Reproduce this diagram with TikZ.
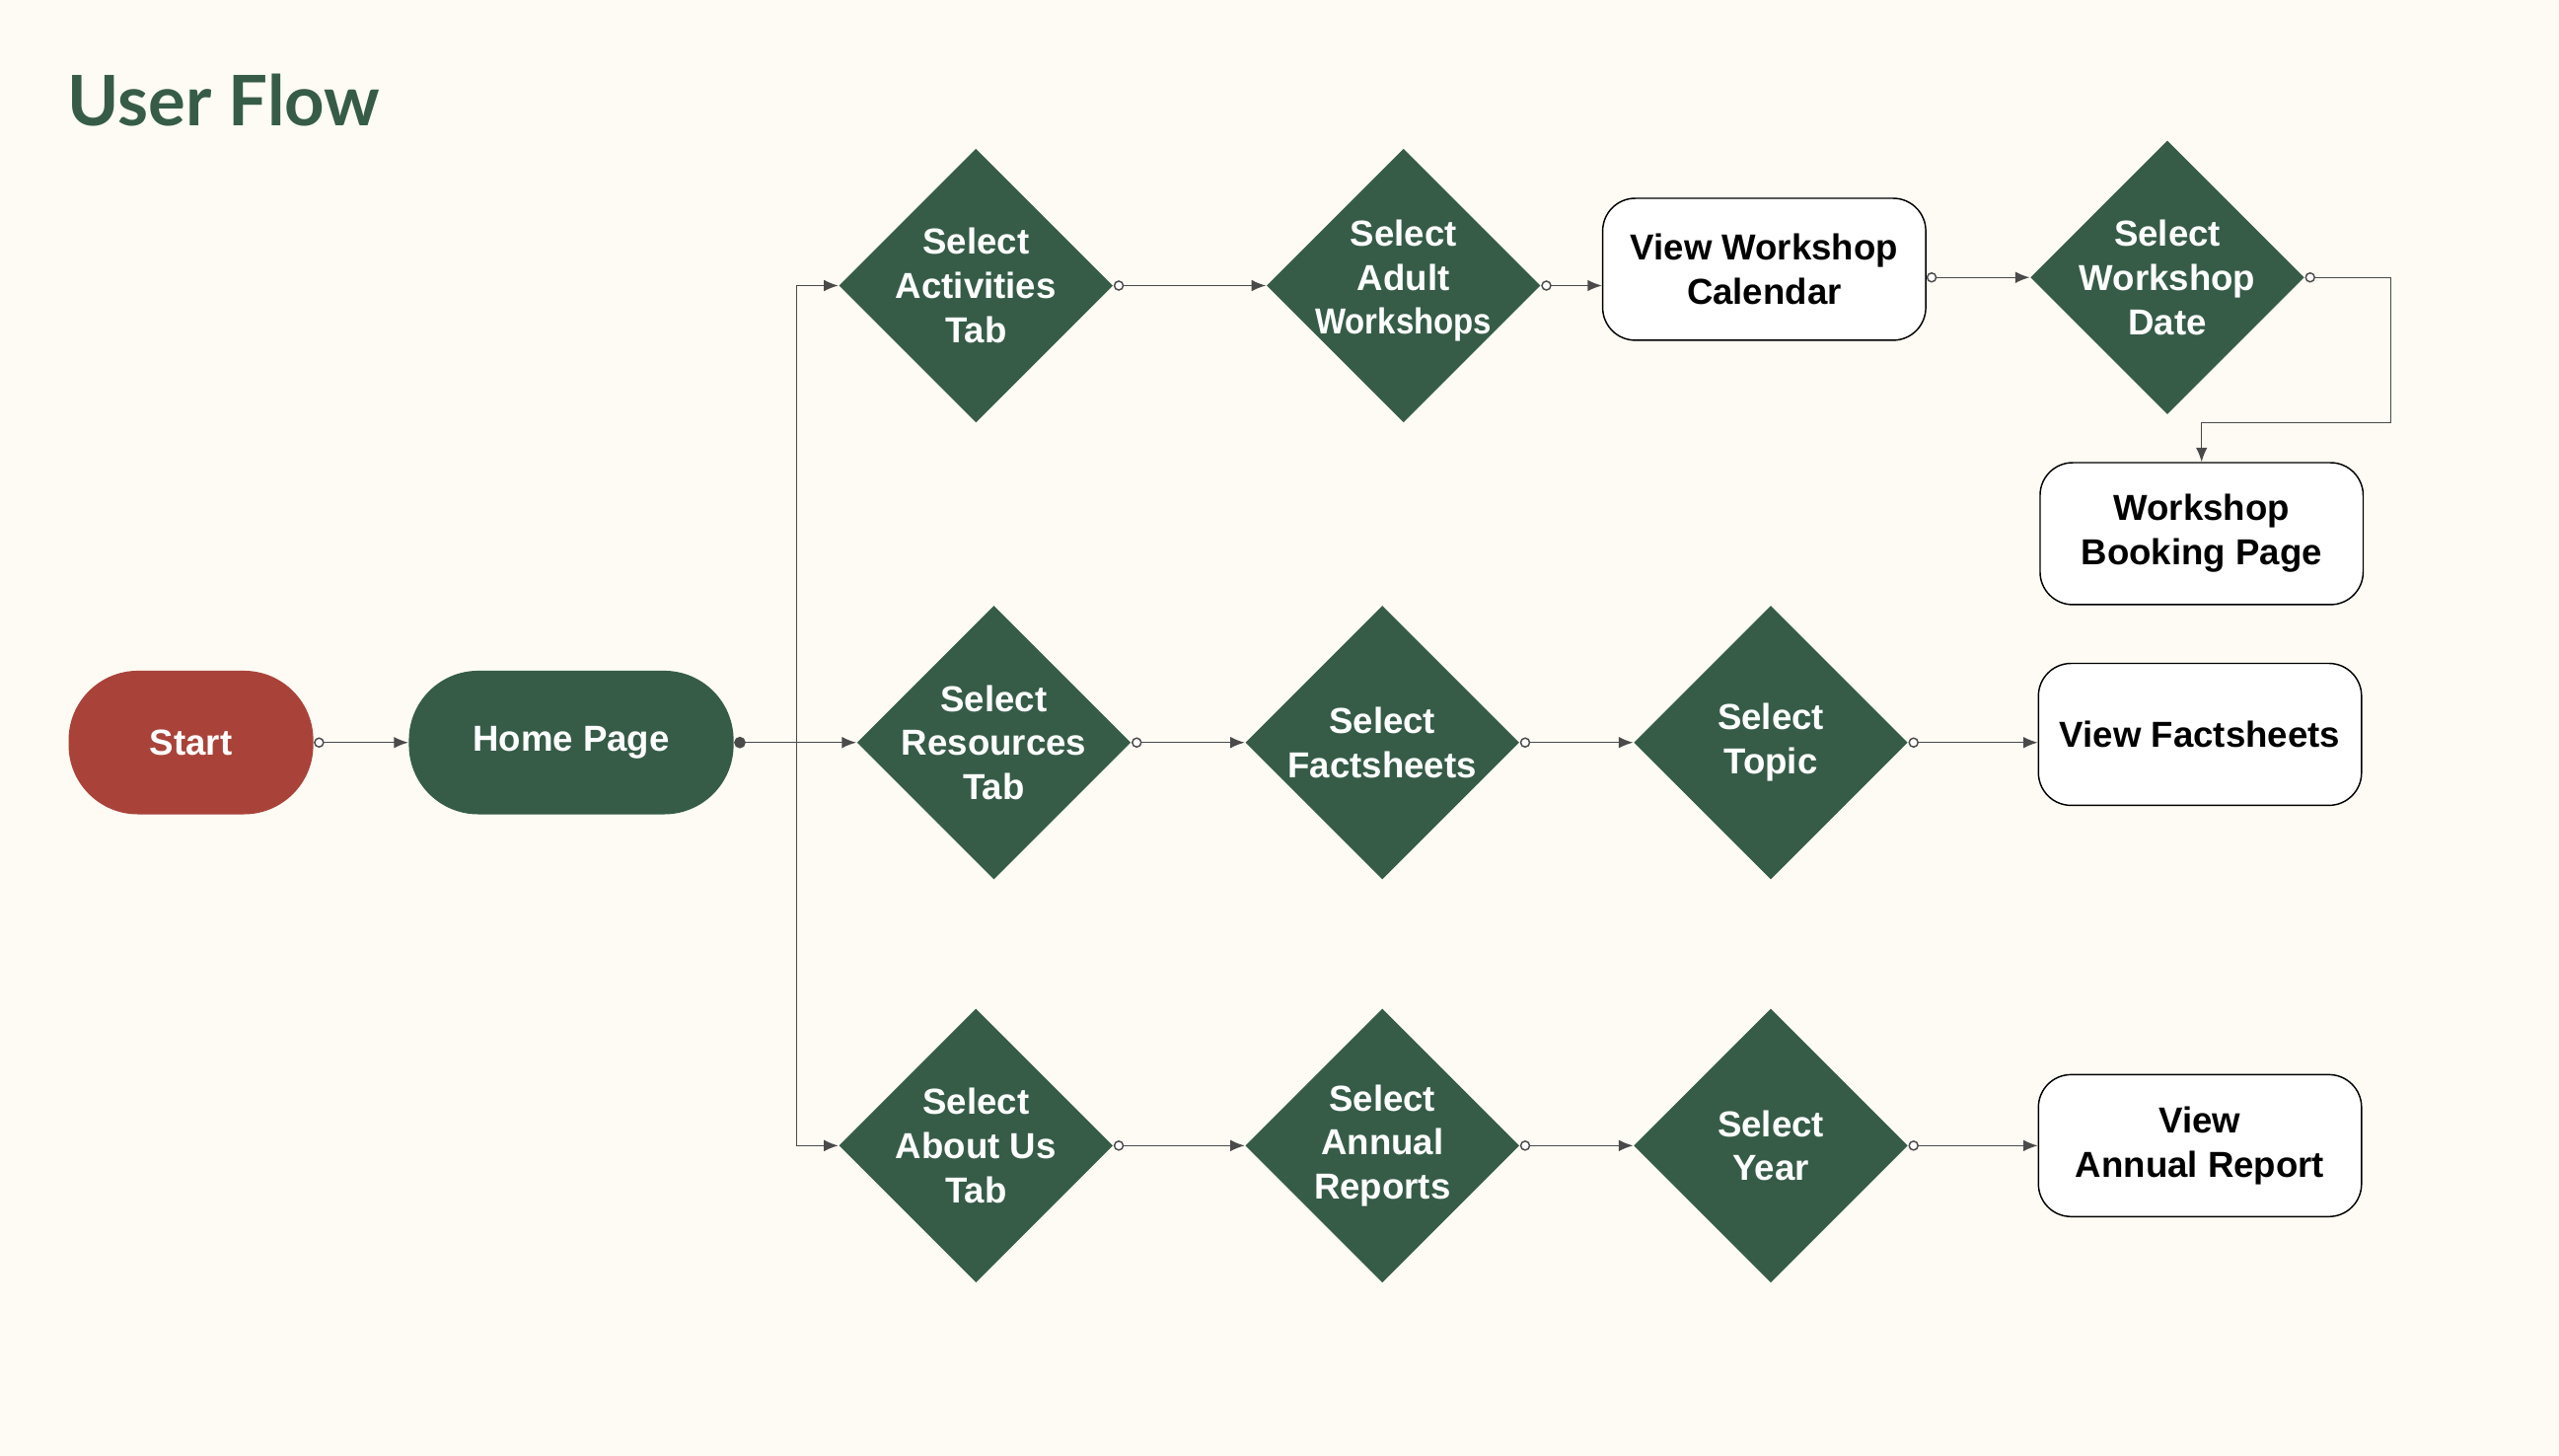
\documentclass[tikz,border=0pt]{standalone}
\usepackage{fontspec}
\setmainfont{Liberation Sans}
\newfontfamily\titlefont{Lato}
\usetikzlibrary{shapes.geometric, arrows.meta}

\definecolor{paper}{HTML}{FEFBF4}
\definecolor{leaf}{HTML}{365C48}
\definecolor{brick}{HTML}{A9433A}
\definecolor{wire}{HTML}{4A4A4A}

\begin{document}
\begin{tikzpicture}[x=0.02cm, y=-0.02cm,
  every node/.style={font=\bfseries\fontsize{12.6}{15.4}\selectfont},
  choice/.style={diamond, aspect=1, fill=leaf, inner sep=0pt,
    minimum width=3.36cm, minimum height=3.36cm},
  ctext/.style={text=white, align=center},
  page/.style={rectangle, rounded corners=0.4cm, draw=black, fill=white,
    line width=0.5pt, minimum width=3.96cm, minimum height=1.74cm, align=center},
  term/.style={rectangle, rounded corners=0.85cm, text=white,
    minimum height=1.76cm},
  flow/.style={draw=wire, line width=0.5pt,
    {Circle[open, fill=white, length=3.6pt, width=3.6pt]}-{Latex[length=5pt, width=4pt]}},
  dotflow/.style={draw=wire, line width=0.5pt,
    {Circle[length=4pt, width=4pt]}-{Latex[length=5pt, width=4pt]}},
  plain/.style={draw=wire, line width=0.5pt, -{Latex[length=5pt, width=4pt]}}]

\useasboundingbox[fill=paper] (0,0) rectangle (1568,892);

\node[anchor=base west, inner sep=0pt, text=leaf,
  font=\titlefont\bfseries\fontsize{24.3}{28}\selectfont] (title) at (41,77) {User Flow};

\node[term, fill=brick, minimum width=3cm] (start) at (117,455) {Start};
\node[term, fill=leaf, minimum width=3.98cm] (home) at (350,455) {Home Page};
\coordinate (split) at (488,455);

\node[choice, label={[ctext]center:Select\\Activities\\Tab}] (act) at (598,175) {};
\node[choice, label={[ctext, yshift=0.06cm]center:Select\\Adult\\\scalebox{0.9}[1]{Workshops}}] (adult) at (860,175) {};
\node[page] (cal) at (1081,165) {View Workshop\\Calendar};
\node[choice, label={[ctext]center:Select\\Workshop\\Date}] (date) at (1328,170) {};
\node[page] (book) at (1349,327) {Workshop\\Booking Page};
\coordinate (turn) at (1465,259);

\node[choice, label={[ctext]center:Select\\Resources\\Tab}] (res) at (609,455) {};
\node[choice, label={[ctext]center:Select\\Factsheets}] (fact) at (847,455) {};
\node[choice, label={[ctext]center:Select\\Topic}] (topic) at (1085,455) {};
\node[page] (vfact) at (1348,450) {View Factsheets};

\node[choice, label={[ctext]center:Select\\About Us\\Tab}] (about) at (598,702) {};
\node[choice, label={[ctext]center:Select\\Annual\\Reports}] (annual) at (847,702) {};
\node[choice, label={[ctext]center:Select\\Year}] (year) at (1085,702) {};
\node[page] (vrep) at (1348,702) {View\\Annual Report};

\path
(start) edge[flow] (home)
(home) edge[dotflow] (res)
(act) edge[flow] (adult)
(adult) edge[flow] (adult -| cal.west)
(cal.east |- date) edge[flow] (date)
(res) edge[flow] (fact)
(fact) edge[flow] (topic)
(topic) edge[flow] (topic -| vfact.west)
(about) edge[flow] (annual)
(annual) edge[flow] (year)
(year) edge[flow] (vrep)
;
\draw[plain] (split) |- (act);
\draw[plain] (split) |- (about);
\draw[flow] (date) -| (turn) -| (book);
\end{tikzpicture}
\end{document}
